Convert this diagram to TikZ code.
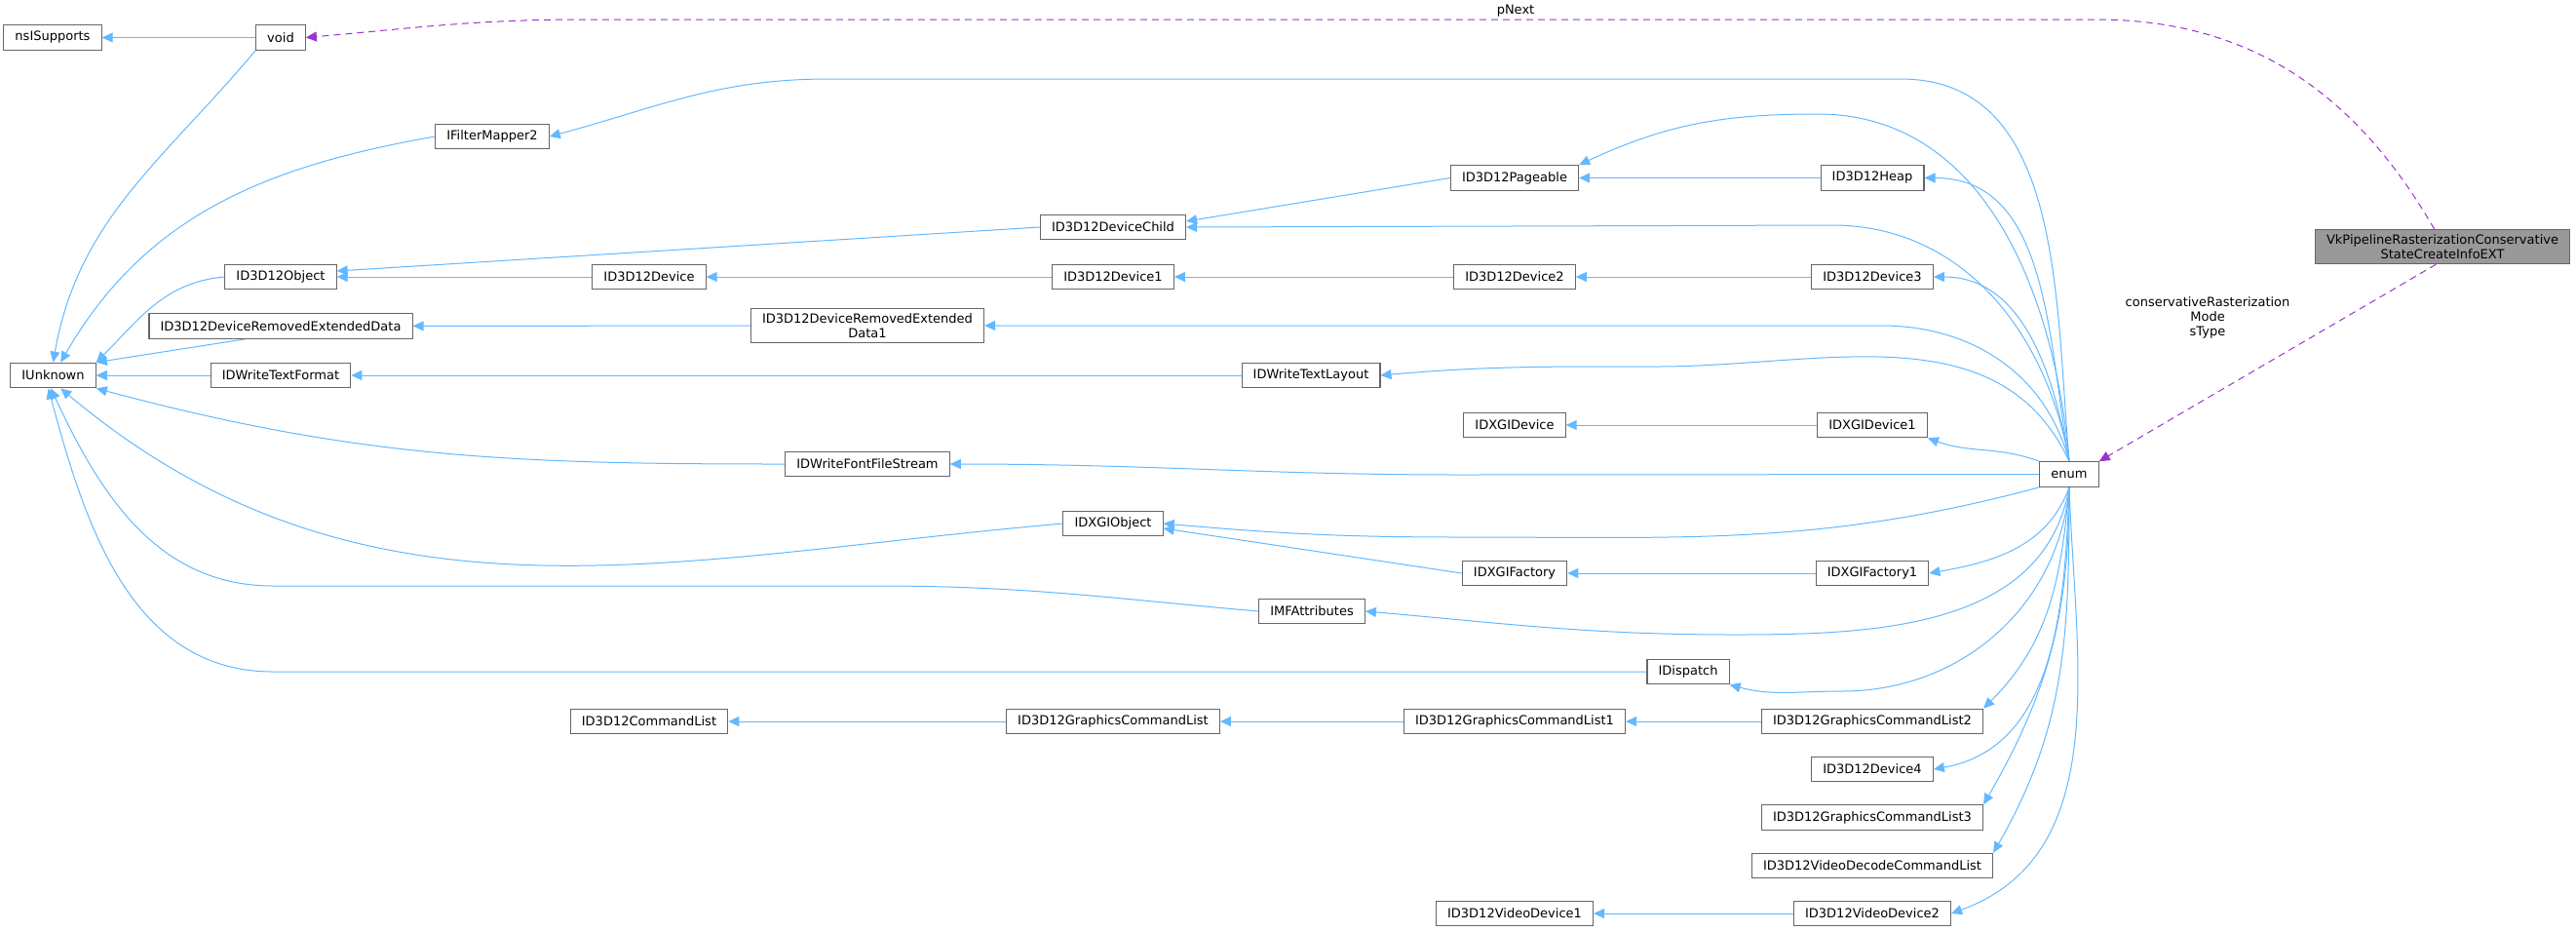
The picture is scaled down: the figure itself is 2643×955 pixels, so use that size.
\documentclass[tikz,border=0pt]{standalone}
\usepackage{fontspec}
\setmainfont{DejaVu Sans}
\usetikzlibrary{arrows.meta,backgrounds}
\definecolor{edgeblue}{HTML}{63B8FF}
\definecolor{usepurple}{HTML}{9A32CD}
\definecolor{boxgray}{HTML}{666666}
\definecolor{vkgray}{HTML}{999999}
\tikzset{
  cls/.style={draw=boxgray,line width=0.28pt,fill=white,inner xsep=2.9pt,inner ysep=1.25pt,
    minimum height=6.4pt,font=\fontsize{3.25}{3.8}\selectfont,align=center},
  inh/.style={draw=edgeblue,line width=0.25pt,{Triangle[length=2.75pt,width=2.5pt]}-},
  use/.style={draw=usepurple,line width=0.25pt,dash pattern=on 1.75pt off 1.25pt,-{Triangle[length=2.75pt,width=2.5pt]}},
  lbl/.style={font=\fontsize{3.25}{3.8}\selectfont,align=center}
}
\begin{document}
\begin{tikzpicture}[x=0.25pt,y=-0.25pt]
\useasboundingbox (0,0) rectangle (2643,955);
% classes
\node[cls] (nsISupports) at (54,38.5) {nsISupports};
\node[cls] (void) at (288,38.5) {void};
\node[cls] (IUnknown) at (54.5,385) {IUnknown};
\node[cls] (IFilterMapper2) at (505,140) {IFilterMapper2};
\node[cls] (ID3D12Object) at (288,284) {ID3D12Object};
\node[cls] (DRED) at (288,334.5) {ID3D12DeviceRemovedExtendedData};
\node[cls] (IDWriteTextFormat) at (288,385) {IDWriteTextFormat};
\node[cls] (ID3D12DeviceChild) at (1142,233) {ID3D12DeviceChild};
\node[cls] (ID3D12Device) at (666,284) {ID3D12Device};
\node[cls] (ID3D12Device1) at (1142,284) {ID3D12Device1};
\node[cls] (DRED1) at (890,334) {ID3D12DeviceRemovedExtended\\Data1};
\node[cls] (IDWriteFontFileStream) at (890,476) {IDWriteFontFileStream};
\node[cls] (IDXGIObject) at (1142,537) {IDXGIObject};
\node[cls] (IDWriteTextLayout) at (1345,385) {IDWriteTextLayout};
\node[cls] (IMFAttributes) at (1346,627) {IMFAttributes};
\node[cls] (ID3D12Pageable) at (1554,182.5) {ID3D12Pageable};
\node[cls] (ID3D12Device2) at (1554,284) {ID3D12Device2};
\node[cls] (IDXGIDevice) at (1554,436) {IDXGIDevice};
\node[cls] (IDXGIFactory) at (1554,588) {IDXGIFactory};
\node[cls] (IDispatch) at (1732,689) {IDispatch};
\node[cls] (ID3D12Heap) at (1921,182.5) {ID3D12Heap};
\node[cls] (ID3D12Device3) at (1921,284) {ID3D12Device3};
\node[cls] (IDXGIDevice1) at (1921,436) {IDXGIDevice1};
\node[cls] (IDXGIFactory1) at (1921,588) {IDXGIFactory1};
\node[cls] (CmdList) at (666,740) {ID3D12CommandList};
\node[cls] (GCL) at (1142,740) {ID3D12GraphicsCommandList};
\node[cls] (GCL1) at (1554,740) {ID3D12GraphicsCommandList1};
\node[cls] (GCL2) at (1921,740) {ID3D12GraphicsCommandList2};
\node[cls] (ID3D12Device4) at (1921,789) {ID3D12Device4};
\node[cls] (GCL3) at (1921,838.5) {ID3D12GraphicsCommandList3};
\node[cls] (VDCL) at (1921,888) {ID3D12VideoDecodeCommandList};
\node[cls] (VideoDevice1) at (1554,937) {ID3D12VideoDevice1};
\node[cls] (VideoDevice2) at (1921,937) {ID3D12VideoDevice2};
\node[cls] (enum) at (2123,486.5) {enum};
\node[cls,fill=vkgray] (Vk) at (2506,253) {VkPipelineRasterizationConservative\\StateCreateInfoEXT};
\begin{scope}[on background layer]
% straight inheritance chains
\foreach \p/\c in {nsISupports/void, IUnknown/IDWriteTextFormat, ID3D12Object/ID3D12Device,
  ID3D12Device/ID3D12Device1, ID3D12Device1/ID3D12Device2, ID3D12Device2/ID3D12Device3,
  DRED/DRED1, IDWriteTextFormat/IDWriteTextLayout, ID3D12Pageable/ID3D12Heap,
  IDXGIDevice/IDXGIDevice1, IDXGIFactory/IDXGIFactory1, CmdList/GCL, GCL/GCL1, GCL1/GCL2,
  VideoDevice1/VideoDevice2}
  \draw[inh] (\p) -- (\c);
% into IUnknown
\draw[inh] (IUnknown.north) to[out=80,in=-130] (void.south west);
\draw[inh] (IUnknown.60) to[out=60,in=190] (IFilterMapper2.west);
\draw[inh] (IUnknown.north east) to[out=45,in=185] (ID3D12Object.west);
\draw[inh] (IUnknown.north east) -- (DRED.200);
\draw[inh] (IUnknown.south east) to[out=-15,in=180] (IDWriteFontFileStream.west);
\draw[inh] (IUnknown.-60) to[out=-40,in=185] (IDXGIObject.west);
\draw[inh] (IUnknown.-100) to[out=-65,in=180] (280,601) -- (900,601) to[out=0,in=175] (IMFAttributes.west);
\draw[inh] (IUnknown.-110) to[out=-75,in=180] (280,689) -- (IDispatch.west);
% other parents
\draw[inh] ([yshift=1.5pt]ID3D12Object.east) -- (ID3D12DeviceChild.west);
\draw[inh] ([yshift=1.5pt]ID3D12DeviceChild.east) -- (ID3D12Pageable.west);
\draw[inh] ([yshift=-1.25pt]IDXGIObject.east) -- (IDXGIFactory.west);
% from enum
\draw[inh] (IFilterMapper2.east) to[out=15,in=180] (850,81) -- (1950,81) to[out=0,in=95] (enum.north);
\draw[inh] (ID3D12Pageable.north east) to[out=25,in=180] (1865,117) to[out=0,in=95] (enum.north);
\draw[inh] (ID3D12Heap.east) to[out=0,in=100] (enum.north);
\draw[inh] (ID3D12DeviceChild.east) -- (1880,231) to[out=0,in=100] (enum.north);
\draw[inh] (ID3D12Device3.east) to[out=0,in=100] (enum.north);
\draw[inh] (DRED1.east) -- (1930,334) to[out=0,in=105] (enum.north);
\draw[inh] (IDWriteTextLayout.east) to[out=5,in=180] (1700,376) to[out=0,in=115] (enum.north);
\draw[inh] (IDXGIDevice1.south east) to[out=-20,in=160] (enum.north west);
\draw[inh] (IDWriteFontFileStream.east) to[out=0,in=180] (1500,487) -- (enum.west);
\draw[inh] (IDXGIObject.east) to[out=-5,in=180] (1500,551) to[out=0,in=195] (enum.south west);
\draw[inh] (IDXGIFactory1.east) to[out=10,in=-110] (enum.south);
\draw[inh] (IMFAttributes.east) to[out=-5,in=180] (1780,651) to[out=0,in=-100] (enum.south);
\draw[inh] (IDispatch.south east) to[out=-15,in=180] (1890,709) to[out=0,in=-95] (enum.south);
\draw[inh] (GCL2.north east) to[out=45,in=-95] (enum.south);
\draw[inh] (ID3D12Device4.east) to[out=10,in=-92] (enum.south);
\draw[inh] (GCL3.north east) to[out=60,in=-90] (enum.south);
\draw[inh] (VDCL.north east) to[out=60,in=-90] (enum.south);
\draw[inh] (VideoDevice2.east) to[out=20,in=-88] (enum.south);
% members
\draw[use] (Vk.115) to[out=120,in=0] (2150,20) -- (600,20) to[out=180,in=5] (void.east);
\draw[use] (Vk.-110) -- (enum.north east);
\end{scope}
\node[lbl] (pnext) at (1555,11) {pNext};
\node[lbl] (members) at (2265,326) {conservativeRasterization\\Mode\\sType};
\end{tikzpicture}
\end{document}
